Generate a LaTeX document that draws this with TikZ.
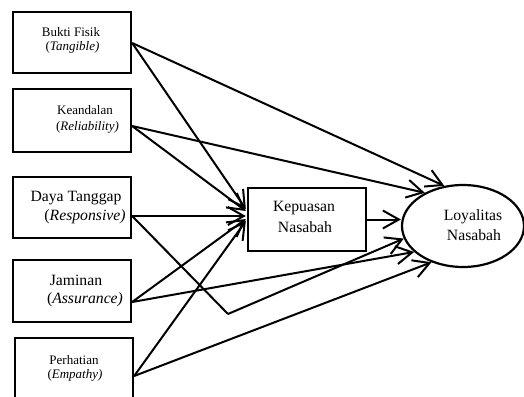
\documentclass[tikz,border=0pt]{standalone}
\usepackage{fontspec}
\setmainfont{Liberation Serif}
\usetikzlibrary{arrows.meta,shapes.geometric}
\begin{document}
\begin{tikzpicture}[x=1pt,y=-1pt,
  box/.style={draw,line width=2.3pt,rectangle,inner sep=0pt,minimum width=118pt},
  smalltxt/.style={inner sep=0pt,font=\fontsize{13}{15}\selectfont},
  bigtxt/.style={inner sep=0pt,font=\fontsize{15.7}{19}\selectfont},
  conn/.style={line width=2pt,-{Straight Barb[length=16pt,width=18pt]}},
  plain/.style={line width=2pt}]
\useasboundingbox (0,0) rectangle (524,396);
\clip (0,0) rectangle (524,396);
% boxes
\node[box,minimum height=61pt] (b1) at (72,42.5) {};
\node[box,minimum height=63pt] (b2) at (72,120.5) {};
\node[box,minimum height=61pt] (b3) at (72,207.5) {};
\node[box,minimum height=62pt] (b4) at (72,291) {};
\node[box,minimum height=72pt] (b5) at (74,374) {};
\node[box,minimum height=63pt] (kep) at (307,219.5) {};
\node[draw,line width=2.2pt,ellipse,inner sep=0pt,minimum width=122pt,minimum height=82pt] (ell) at (463,226) {};
% texts
\node[smalltxt] (t1a) at (71,32) {Bukti Fisik};
\node[smalltxt] (t1b) at (72.5,47) {(\textit{Tangible)}};
\node[smalltxt] (t2a) at (85,110) {Keandalan};
\node[smalltxt] (t2b) at (87.5,127) {(\textit{Reliability)}};
\node[bigtxt] (t3a) at (76,198) {Daya Tanggap};
\node[bigtxt] (t3b) at (85,217) {(\textit{Responsive)}};
\node[bigtxt] (t4a) at (76,280) {Jaminan};
\node[bigtxt] (t4b) at (85,300) {(\textit{Assurance)}};
\node[smalltxt] (t5a) at (74,360) {Perhatian};
\node[smalltxt] (t5b) at (75,375) {(\textit{Empathy)}};
\node[bigtxt] (tka) at (304,208) {Kepuasan};
\node[bigtxt] (tkb) at (305,227) {Nasabah};
\node[bigtxt] (tla) at (473,217) {Loyalitas};
\node[bigtxt] (tlb) at (474,235) {Nasabah};
% source points
\coordinate (s1) at (b1.east |- 0,43);
\coordinate (s2) at (b2.east |- 0,126);
\coordinate (s3) at (b3.east |- 0,216);
\coordinate (s4) at (b4.east |- 0,302);
\coordinate (s5) at (b5.east |- 0,376);
\coordinate (bend) at (228,314);
% targets on Kepuasan
\coordinate (k1) at ([xshift=-1pt]kep.west |- 0,209);
\coordinate (k2) at ([xshift=-1pt]kep.west |- 0,211);
\coordinate (k3) at ([xshift=-1pt]kep.west |- 0,216);
\coordinate (k4) at ([xshift=-1pt]kep.west |- 0,219);
\coordinate (k5) at ([xshift=-1pt]kep.west |- 0,221);
% connectors
\draw[conn] (s1) -- (k1);
\draw[conn] (s1) -- (ell.115);
\draw[conn] (s2) -- (k2);
\draw[conn] (s2) -- (ell.139);
\draw[conn] (s3) -- (k3);
\draw[plain] (s3) -- (bend);
\draw[conn] (bend) -- (ell.192);
\draw[conn] (s4) -- (k4);
\draw[conn] (s4) -- (ell.208);
\draw[conn] (s5) -- (k5);
\draw[conn] (s5) -- (ell.229);
\draw[conn] (kep.east) -- (kep.east -| ell.west);
\end{tikzpicture}
\end{document}
